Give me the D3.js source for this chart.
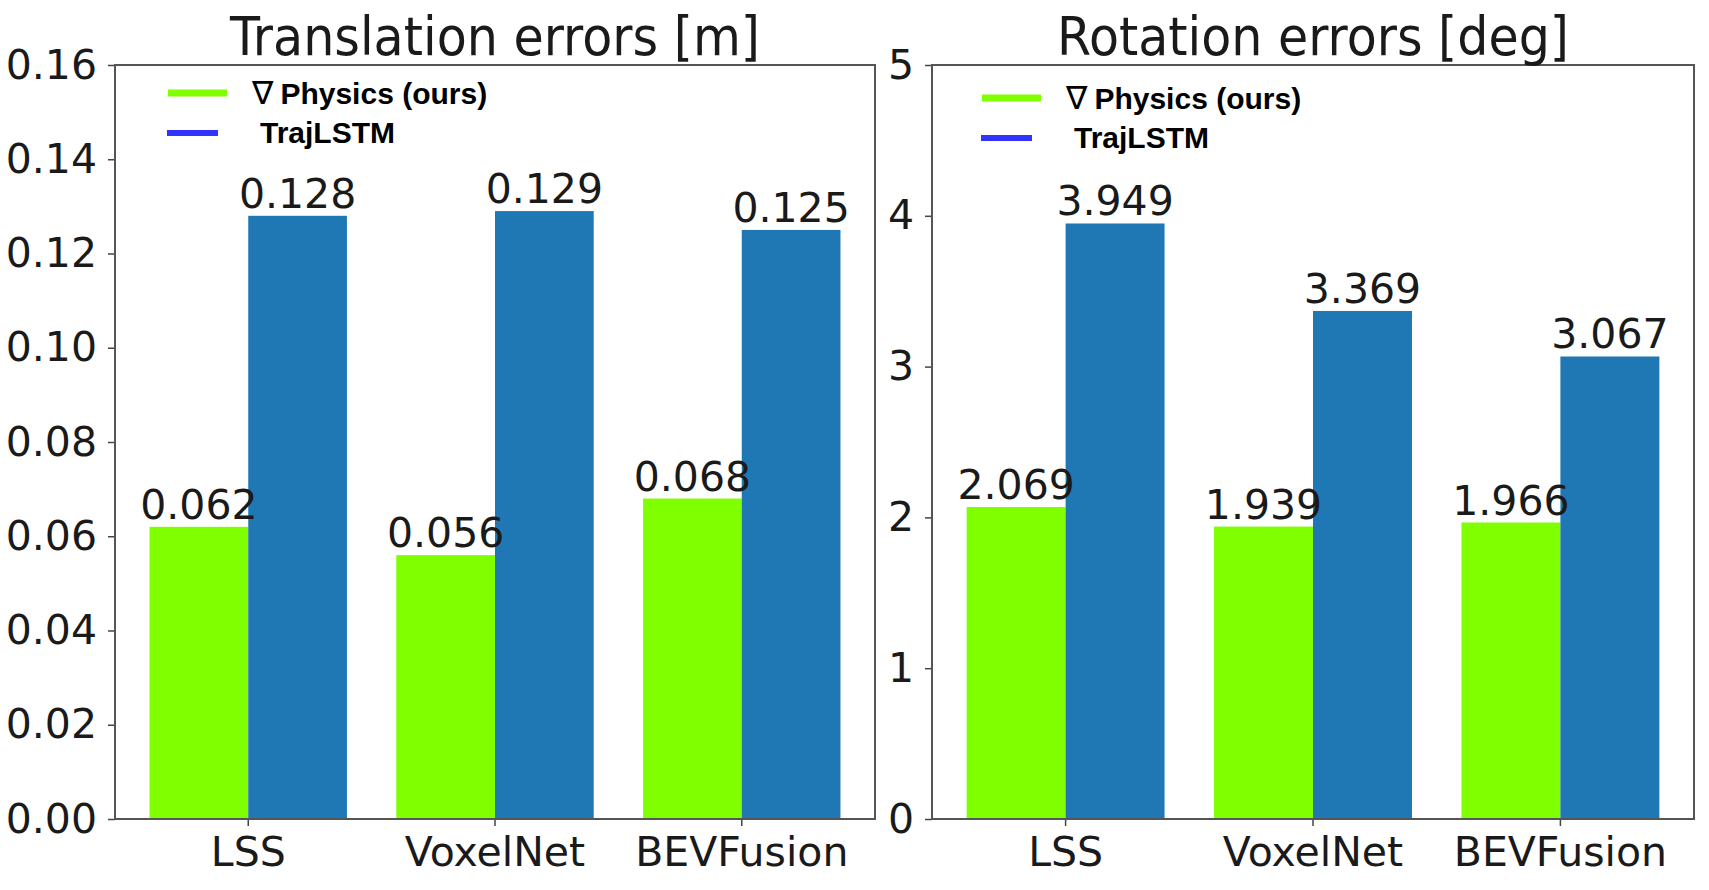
<!DOCTYPE html>
<html>
<head>
<meta charset="utf-8">
<script src="https://cdn.jsdelivr.net/npm/d3@7"></script>
<style>
  body { margin: 0; background: #fff; }
  svg { display: block; }
</style>
</head>
<body>
<div id="chart"></div>
<script>
/* global d3 */

// data
const categories = ['LSS', 'VoxelNet', 'BEVFusion']
const seriesNames = ['Physics (ours)', 'TrajLSTM']
const transPhysics = [0.062, 0.056, 0.068]
const transLstm = [0.128, 0.129, 0.125]
const rotPhysics = [2.069, 1.939, 1.966]
const rotLstm = [3.949, 3.369, 3.067]
const transTicks = [0, 0.02, 0.04, 0.06, 0.08, 0.10, 0.12, 0.14, 0.16]
const rotTicks = [0, 1, 2, 3, 4, 5]

const width = 1709,
  height = 890,
  plotTop = 65,
  plotBottom = 819

const barColors = ['#7fff00', '#1f77b4']
const legendColors = ['#7fff00', '#3333ff']
const labelFont = '41px'

const svg = d3.select('#chart')
  .append('svg')
  .attr('width', width)
  .attr('height', height)
  .style('background', '#fff')

const panels = [
  { title: 'Translation errors [m]', titleLen: 530, left: 115, right: 875, max: 0.16, ticks: transTicks, fmt: d3.format('.2f'), green: transPhysics, blue: transLstm, lx: 0, ly: 0 },
  { title: 'Rotation errors [deg]', titleLen: 512, left: 932, right: 1694, max: 5, ticks: rotTicks, fmt: d3.format('d'), green: rotPhysics, blue: rotLstm, lx: -3, ly: 5 }
]

panels.forEach((p) => {
  const g = svg.append('g')

  const x = d3.scaleBand()
    .domain(categories)
    .range([p.left, p.right])
    .paddingInner(0.2)
    .paddingOuter(0.14)

  const xSub = d3.scaleBand()
    .domain([0, 1])
    .range([0, x.bandwidth()])

  const y = d3.scaleLinear()
    .domain([0, p.max])
    .range([plotBottom, plotTop])

  // bars
  const rows = categories.map((c, i) => ({ cat: c, vals: [p.green[i], p.blue[i]] }))
  const grp = g.selectAll('.cat')
    .data(rows)
    .enter()
    .append('g')
    .attr('class', 'cat')
    .attr('transform', (d) => `translate(${x(d.cat)},0)`)

  grp.selectAll('rect')
    .data((d) => d.vals)
    .enter()
    .append('rect')
    .attr('x', (d, i) => xSub(i))
    .attr('width', xSub.bandwidth())
    .attr('y', (d) => y(d))
    .attr('height', (d) => y(0) - y(d))
    .attr('fill', (d, i) => barColors[i])

  grp.selectAll('text')
    .data((d) => d.vals)
    .enter()
    .append('text')
    .attr('x', (d, i) => xSub(i) + xSub.bandwidth() / 2)
    .attr('y', (d) => y(d) - 8)
    .attr('text-anchor', 'middle')
    .style('font-family', 'DejaVu Sans')
    .style('font-size', labelFont)
    .style('fill', '#1a1a1a')
    .text((d) => d)

  // axes
  const yAxis = d3.axisLeft(y).tickValues(p.ticks).tickFormat(p.fmt).tickSize(7).tickPadding(11)
  const xAxis = d3.axisBottom(x).tickSize(7).tickPadding(11)

  const ya = g.append('g')
    .attr('transform', `translate(${p.left},0)`)
    .call(yAxis)
  const xa = g.append('g')
    .attr('transform', `translate(0,${plotBottom})`)
    .call(xAxis)

  ;[ya, xa].forEach((a) => {
    a.select('.domain').remove()
    a.selectAll('line').attr('stroke', '#444').attr('stroke-width', 1.5)
    a.selectAll('text')
      .style('font-family', 'DejaVu Sans')
      .style('font-size', labelFont)
      .attr('fill', '#1a1a1a')
  })

  // frame
  g.append('rect')
    .attr('x', p.left)
    .attr('y', plotTop)
    .attr('width', p.right - p.left)
    .attr('height', plotBottom - plotTop)
    .attr('fill', 'none')
    .attr('stroke', '#555')
    .attr('stroke-width', 2)

  // title
  g.append('text')
    .attr('x', (p.left + p.right) / 2)
    .attr('y', 55)
    .attr('text-anchor', 'middle')
    .attr('textLength', p.titleLen)
    .attr('lengthAdjust', 'spacingAndGlyphs')
    .style('font-family', 'DejaVu Sans')
    .style('font-size', '53px')
    .style('fill', '#1a1a1a')
    .text(p.title)

  // legend (hand placed, like the original)
  const lg = g.append('g')
    .attr('transform', `translate(${p.left + p.lx},${plotTop + p.ly})`)
  const lineLen = [59, 51]
  seriesNames.forEach((s, i) => {
    lg.append('line')
      .attr('x1', 53 - i)
      .attr('x2', 53 - i + lineLen[i])
      .attr('y1', 28 + i * 40)
      .attr('y2', 28 + i * 40)
      .attr('stroke', legendColors[i])
      .attr('stroke-width', 7 - i)
    const t = lg.append('text')
      .attr('x', 137 + i * 8)
      .attr('y', 39 + i * 39)
      .style('font-family', 'Liberation Sans, Arial, sans-serif')
      .style('font-weight', 'bold')
      .style('font-size', '30px')
      .style('fill', '#000')
    if (i === 0) {
      t.append('tspan')
        .style('font-family', 'DejaVu Sans')
        .style('font-weight', 'normal')
        .style('font-size', '32px')
        .text('∇')
      t.append('tspan').attr('dx', 7).text(s)
    } else {
      t.text(s)
    }
  })
})
</script>
</body>
</html>
